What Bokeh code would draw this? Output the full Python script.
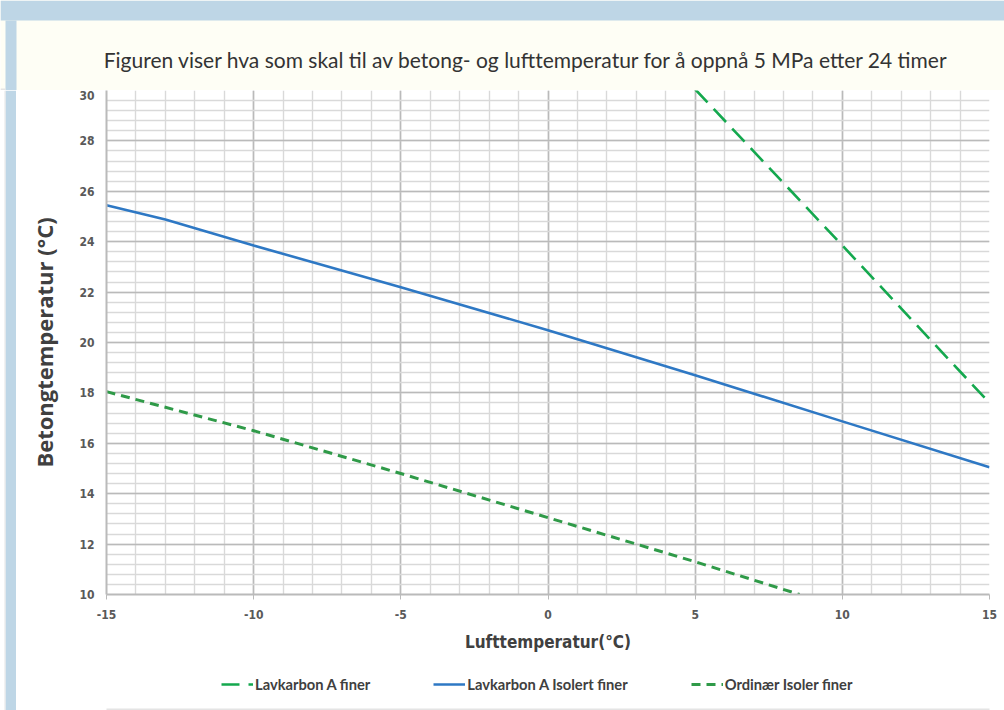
from bokeh.plotting import figure
from bokeh.layouts import column, row
from bokeh.models import (SingleIntervalTicker, BoxAnnotation, Label, Legend,
                          LegendItem, Range1d, PrintfTickFormatter)
from bokeh.embed import file_html
from bokeh.resources import INLINE

TITLE = "Figuren viser hva som skal til av betong- og lufttemperatur for å oppnå 5 MPa etter 24 timer"
X_LABEL = "Lufttemperatur(°C)"
Y_LABEL = "Betongtemperatur (°C)"

SERIES_NAMES = ["Lavkarbon A finer", "Lavkarbon A Isolert finer", "Ordinær Isoler finer"]

lavkarbon_x = [5, 10, 15]
lavkarbon_y = [30.05, 23.85, 17.6]

isolert_x = [-15, -13, -10, -5, 0, 5, 10, 15]
isolert_y = [25.45, 24.88, 23.85, 22.19, 20.49, 18.7, 16.87, 15.05]

ordinaer_x = [-15, -10, -5, 0, 5, 8.55]
ordinaer_y = [18.05, 16.5, 14.8, 13.05, 11.3, 10.0]

X_MIN, X_MAX, X_STEP = -15, 15, 5
Y_MIN, Y_MAX, Y_STEP = 10, 30, 2

STYLES = [dict(line_color="#14a84e", line_width=2.6, line_dash="18 9"),
          dict(line_color="#2e78c4", line_width=2.6),
          dict(line_color="#2f9a48", line_width=3, line_dash="9 6")]

BLUE_BG = "#bed6e6"
CREAM = "#fefef5"
COND = "DejaVu Sans Condensed, Roboto"

W, H = 1004, 710
TOP_H = 90
BAND_H = 20
STRIP_W = 16
MAIN_W = W - STRIP_W
MAIN_H = 572
LEG_H = H - TOP_H - MAIN_H


def bare(width, height, xr, yr, bg):
    f = figure(width=width, height=height, output_backend="svg",
               toolbar_location=None, x_range=xr, y_range=yr,
               x_axis_location=None, y_axis_location=None,
               min_border=0, min_border_left=0, min_border_right=0,
               min_border_top=0, min_border_bottom=0)
    f.grid.visible = False
    f.outline_line_color = None
    f.background_fill_color = bg
    f.border_fill_color = bg
    f.title.visible = False
    return f


def box(fig, l, r, b, t, color):
    fig.add_layout(BoxAnnotation(left=l, right=r, bottom=b, top=t,
                                 fill_color=color, fill_alpha=1,
                                 line_color=None))


# ---- title band ----
top = bare(W, TOP_H, Range1d(0, W), Range1d(0, TOP_H), CREAM)
box(top, 0, W, TOP_H - BAND_H, TOP_H, BLUE_BG)
box(top, 5, STRIP_W, 0, TOP_H - BAND_H, BLUE_BG)
box(top, 0, 5, 0, 2, "#e4e4e4")
top.add_layout(Label(x=526, y=TOP_H - 59, text=TITLE, text_align="center",
                     text_baseline="middle", text_font="Lato",
                     text_font_size="21px", text_color="#333333"))

# ---- left strip ----
strip = bare(STRIP_W, MAIN_H + LEG_H, Range1d(0, STRIP_W),
             Range1d(0, MAIN_H + LEG_H), "white")
box(strip, 5, STRIP_W, 0, MAIN_H + LEG_H, BLUE_BG)
box(strip, 4, 5, 0, MAIN_H + LEG_H, "#e6e6e6")

# ---- chart ----
p = figure(width=MAIN_W, height=MAIN_H, output_backend="svg",
           toolbar_location=None,
           x_range=Range1d(X_MIN, X_MAX), y_range=Range1d(Y_MIN, Y_MAX),
           min_border_left=90, min_border_right=15, min_border_top=0,
           min_border_bottom=68)
p.title.visible = False
p.background_fill_color = "white"
p.border_fill_color = "white"
p.outline_line_color = None

xt = SingleIntervalTicker(interval=X_STEP, num_minor_ticks=5)
yt = SingleIntervalTicker(interval=Y_STEP, num_minor_ticks=5)
p.xaxis.ticker = xt
p.yaxis.ticker = yt
p.xgrid.ticker = xt
p.ygrid.ticker = yt
p.xaxis.formatter = PrintfTickFormatter(format="%d")
p.yaxis.formatter = PrintfTickFormatter(format="%d")

for g in (p.xgrid, p.ygrid):
    g.grid_line_color = "#bababa"
    g.grid_line_width = 1.6
    g.minor_grid_line_color = "#d9d9d9"
    g.minor_grid_line_width = 1.4

for ax in (p.xaxis, p.yaxis):
    ax.axis_line_color = "#bababa"
    ax.axis_line_width = 2
    ax.minor_tick_line_color = None
    ax.major_label_text_font = COND
    ax.major_label_text_font_style = "bold"
    ax.major_label_text_font_size = "12px"
    ax.major_label_text_color = "#595959"
    ax.axis_label_text_font_style = "bold"
    ax.axis_label_text_color = "#404040"

p.xaxis.major_tick_line_color = "#bababa"
p.xaxis.major_tick_out = 5
p.xaxis.major_tick_in = 0
p.xaxis.major_label_standoff = 10
p.xaxis.axis_label = X_LABEL
p.xaxis.axis_label_text_font = COND
p.xaxis.axis_label_text_font_size = "17px"
p.xaxis.axis_label_standoff = 10

p.yaxis.major_tick_line_color = None
p.yaxis.major_tick_out = 0
p.yaxis.major_tick_in = 0
p.yaxis.major_label_standoff = 8
p.yaxis.axis_label = Y_LABEL
p.yaxis.axis_label_text_font = "Open Sans"
p.yaxis.axis_label_text_font_size = "22px"
p.yaxis.axis_label_standoff = 17

series = [(lavkarbon_x, lavkarbon_y), (isolert_x, isolert_y),
          (ordinaer_x, ordinaer_y)]
for (xs, ys), st in zip(series, STYLES):
    p.line(xs, ys, **st)

# ---- legend strip (same series; its view range keeps them off-canvas) ----
leg = bare(MAIN_W, LEG_H, Range1d(100, 101), Range1d(100, 101), "white")
box(leg, 99, 102, 99, 100.04, "#e4e4e4")
leg_items = []
for name, (xs, ys), st in zip(SERIES_NAMES, series, STYLES):
    r = leg.line(xs, ys, **st)
    leg_items.append(LegendItem(label=name, renderers=[r]))

legend = Legend(items=leg_items, orientation="horizontal", location=(115, 16),
                border_line_color=None, background_fill_alpha=0,
                label_text_font="Lato", label_text_font_style="bold",
                label_text_font_size="14.7px", label_text_color="#404040",
                glyph_width=32, label_standoff=2, spacing=63, padding=5,
                margin=0)
leg.add_layout(legend, "center")

layout = column(top, row(strip, column(p, leg, spacing=0), spacing=0),
                spacing=0)

open("out.html", "w").write(file_html(layout, INLINE))
